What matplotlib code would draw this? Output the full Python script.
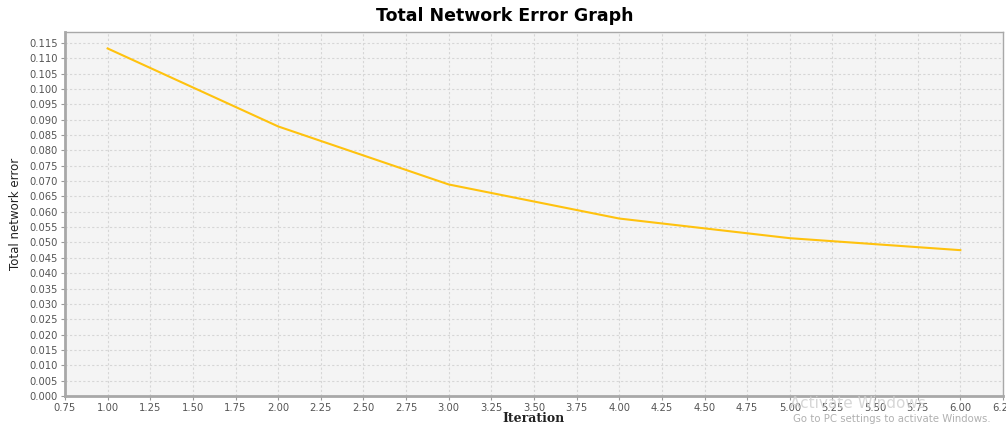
import matplotlib
matplotlib.use("Agg")
import matplotlib.pyplot as plt
import numpy as np

iterations = [1, 2, 3, 4, 5, 6]
errors = [0.1132, 0.0878, 0.0689, 0.0578, 0.0514, 0.0475]
x_ticks = [0.75, 1.00, 1.25, 1.50, 1.75, 2.00, 2.25, 2.50, 2.75, 3.00, 3.25, 3.50,
           3.75, 4.00, 4.25, 4.50, 4.75, 5.00, 5.25, 5.50, 5.75, 6.00, 6.25]
y_ticks = [i * 0.005 for i in range(24)]

fig = plt.figure(figsize=(10.06, 4.28), dpi=100)
ax = fig.add_axes([0.0646, 0.0748, 0.9324, 0.850])
ax.set_facecolor("#F4F4F4")

ax.plot(iterations, errors, color="#FFC20E", linewidth=1.5)

ax.set_xlim(0.75, 6.2)
ax.set_ylim(0, 0.1185)
ax.set_xticks(x_ticks)
ax.set_xticklabels([f"{v:.2f}" for v in x_ticks])
ax.set_yticks(y_ticks)
ax.set_yticklabels([f"{v:.3f}" for v in y_ticks])
ax.tick_params(axis="both", labelsize=7.2, colors="#999999", labelcolor="#555555",
               length=3, width=0.8, pad=2)
ax.grid(True, color="#D6D6D6", linestyle=(0, (2, 2)), linewidth=0.8)
ax.set_axisbelow(True)

for side in ["left", "bottom"]:
    ax.spines[side].set_color("#A8A8A8")
    ax.spines[side].set_linewidth(2)
for side in ["top", "right"]:
    ax.spines[side].set_color("#A8A8A8")
    ax.spines[side].set_linewidth(1)

fig.text(0.502, 0.962, "Total Network Error Graph", ha="center", va="center",
         fontsize=12.5, fontweight="bold", color="#000000")
fig.text(0.53, 0.022, "Iteration", ha="center", va="center",
         fontsize=9, fontweight="bold", family="DejaVu Serif", color="#222222")
fig.text(0.015, 0.5, "Total network error", ha="center", va="center",
         rotation=90, fontsize=8.5, family="Liberation Sans Narrow", color="#222222")

fig.text(0.785, 0.058, "Activate Windows", ha="left", va="center",
         fontsize=11, color="#D0D0D0", alpha=0.85)
fig.text(0.788, 0.022, "Go to PC settings to activate Windows.", ha="left", va="center",
         fontsize=7.3, color="#B0B0B0")

fig.savefig("out.png", dpi=100)
